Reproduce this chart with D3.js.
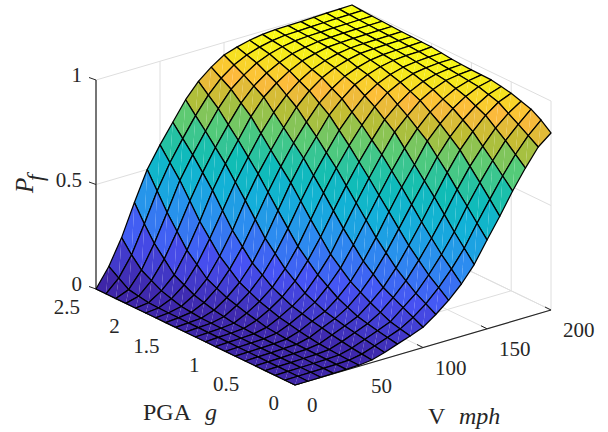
<!DOCTYPE html>
<html>
<head>
<meta charset="utf-8">
<script src="https://cdn.jsdelivr.net/npm/d3@7"></script>
<style>
  html, body { margin: 0; padding: 0; background: #fff; }
  text { font-family: "Liberation Serif", serif; fill: #262626; }
</style>
</head>
<body>
<div id="chart"></div>
<script>
let pgaValues = [0, 0.125, 0.25, 0.375, 0.5, 0.625, 0.75, 0.875, 1, 1.125, 1.25, 1.375, 1.5, 1.625, 1.75, 1.875, 2, 2.125, 2.25, 2.375, 2.5];
let speedValues = [0, 10, 20, 30, 40, 50, 60, 70, 80, 90, 100, 110, 120, 130, 140, 150, 160, 170, 180, 190, 200];
let pgaTicks = [0, 0.5, 1, 1.5, 2, 2.5];
let speedTicks = [0, 50, 100, 150, 200];
let pfTicks = [0, 0.5, 1];

// one row per PGA value, columns follow speedValues
let pfRows = [
  [0, 0, .001, .002, .003, .005, .012, .03, .052, .073, .097, .14, .19, .25, .325, .425, .52, .623, .715, .798, .847],
  [0, .001, .002, .003, .004, .006, .017, .038, .061, .084, .121, .168, .228, .298, .38, .482, .578, .672, .757, .829, .886],
  [0, .001, .002, .003, .005, .008, .023, .046, .07, .095, .145, .195, .265, .345, .435, .54, .635, .722, .8, .86, .915],
  [0, .001, .002, .004, .006, .011, .031, .055, .081, .117, .17, .232, .312, .4, .495, .597, .69, .768, .837, .89, .93],
  [0, .001, .002, .004, .007, .015, .04, .065, .092, .14, .195, .27, .36, .455, .555, .655, .745, .815, .875, .92, .945],
  [0, .002, .003, .005, .008, .022, .05, .076, .113, .167, .235, .32, .417, .515, .61, .707, .785, .848, .897, .934, .955],
  [0, .002, .003, .005, .01, .03, .06, .088, .135, .195, .275, .37, .475, .575, .665, .76, .825, .88, .92, .948, .963],
  [0, .002, .004, .006, .015, .04, .072, .109, .167, .237, .33, .43, .532, .63, .72, .797, .858, .902, .935, .954, .964],
  [0, .002, .004, .007, .02, .05, .085, .13, .2, .28, .385, .49, .59, .685, .775, .835, .89, .925, .95, .96, .965],
  [0, .003, .005, .01, .031, .065, .107, .165, .245, .34, .447, .55, .645, .732, .812, .867, .911, .94, .957, .965, .968],
  [0, .003, .006, .012, .042, .08, .13, .2, .29, .4, .51, .61, .7, .78, .85, .9, .932, .955, .965, .97, .971],
  [0, .004, .007, .02, .056, .102, .165, .25, .352, .465, .57, .662, .75, .82, .88, .92, .946, .963, .971, .975, .977],
  [0, .004, .008, .028, .07, .125, .2, .3, .415, .53, .63, .715, .8, .86, .91, .94, .96, .972, .977, .979, .983],
  [0, .005, .013, .041, .092, .165, .255, .367, .48, .585, .68, .762, .835, .887, .927, .952, .969, .977, .98, .982, .984],
  [0, .005, .018, .055, .115, .205, .31, .435, .545, .64, .73, .81, .87, .915, .945, .965, .978, .982, .984, .985, .986],
  [0, .006, .032, .08, .16, .265, .382, .5, .602, .698, .78, .845, .895, .932, .956, .972, .981, .984, .985, .986, .987],
  [0, .008, .047, .105, .205, .325, .455, .565, .66, .755, .83, .88, .92, .95, .967, .98, .984, .986, .987, .988, .989],
  [0, .016, .073, .158, .272, .4, .518, .62, .712, .797, .86, .905, .937, .961, .974, .983, .986, .988, .989, .99, .991],
  [0, .025, .1, .21, .34, .475, .58, .675, .765, .84, .89, .93, .955, .972, .982, .986, .988, .99, .991, .992, .993],
  [0, .057, .15, .28, .42, .537, .635, .727, .807, .87, .915, .945, .965, .978, .986, .988, .99, .992, .994, .995, .996],
  [0, .09, .21, .36, .5, .6, .69, .78, .85, .9, .94, .96, .975, .985, .99, .991, .992, .995, .997, .998, 1]
];

let colourStops = [0, 0.125, 0.25, 0.375, 0.5, 0.625, 0.74, 0.84, 0.92, 0.98];
let colourNames = ["#3e26a8", "#4752f4", "#2c8cf0", "#12b0d8", "#10bdb5", "#55cb78", "#bcbd32", "#fdba3c", "#f5e21f", "#f9fb15"];

let width = 608;
let height = 432;
let originX = 295;
let originY = 385;

let colour = d3.scaleLinear().domain(colourStops).range(colourNames);

// oblique view: every data axis gets a screen vector
let speedX = d3.scaleLinear().domain([0, 200]).range([0, 256]);
let speedY = d3.scaleLinear().domain([0, 200]).range([0, -75]);
let pgaX = d3.scaleLinear().domain([0, 2.5]).range([0, -199]);
let pgaY = d3.scaleLinear().domain([0, 2.5]).range([0, -96]);
let pfY = d3.scaleLinear().domain([0, 1]).range([0, -209]);

function project(pga, speed, pf) {
  return [
    originX + speedX(speed) + pgaX(pga),
    originY + speedY(speed) + pgaY(pga) + pfY(pf)
  ];
}

let svg = d3.select("#chart").append("svg")
  .attr("width", width)
  .attr("height", height)
  .style("display", "block");

function segment(parent, a, b, stroke, strokeWidth) {
  parent.append("line")
    .attr("x1", a[0]).attr("y1", a[1])
    .attr("x2", b[0]).attr("y2", b[1])
    .attr("stroke", stroke)
    .attr("stroke-width", strokeWidth);
}

// walls and floor grid
let gridColour = "#dedede";
let grid = svg.append("g");
pfTicks.forEach(function (t) {
  segment(grid, project(2.5, 0, t), project(2.5, 200, t), gridColour, 1);
  segment(grid, project(0, 200, t), project(2.5, 200, t), gridColour, 1);
});
speedTicks.forEach(function (t) {
  segment(grid, project(2.5, t, 0), project(2.5, t, 1), gridColour, 1);
  segment(grid, project(0, t, 0), project(2.5, t, 0), gridColour, 1);
});
pgaTicks.forEach(function (t) {
  segment(grid, project(t, 200, 0), project(t, 200, 1), gridColour, 1);
  segment(grid, project(t, 0, 0), project(t, 200, 0), gridColour, 1);
});

// axis lines and ticks
let axisColour = "#262626";
let axes = svg.append("g");
segment(axes, project(2.5, 0, 0), project(2.5, 0, 1), axisColour, 1.2);
segment(axes, project(2.5, 0, 0), project(0, 0, 0), axisColour, 1.2);
segment(axes, project(0, 0, 0), project(0, 200, 0), axisColour, 1.2);

let tickLabels = svg.append("g").style("font-size", "21px");

pfTicks.forEach(function (t) {
  let p = project(2.5, 0, t);
  segment(axes, p, [p[0] - 7, p[1] - 2.5], axisColour, 1);
  tickLabels.append("text")
    .attr("x", p[0] - 14).attr("y", p[1] - 5)
    .attr("dy", "0.34em")
    .attr("text-anchor", "end")
    .text(d3.format("")(t));
});
pgaTicks.forEach(function (t) {
  let p = project(t, 0, 0);
  segment(axes, p, [p[0] + 7, p[1] - 2], axisColour, 1);
  tickLabels.append("text")
    .attr("x", p[0] - 16).attr("y", p[1] + 18)
    .attr("dy", "0.34em")
    .attr("text-anchor", "end")
    .text(d3.format("")(t));
});
speedTicks.forEach(function (t) {
  let p = project(0, t, 0);
  segment(axes, p, [p[0] - 6, p[1] - 3], axisColour, 1);
  tickLabels.append("text")
    .attr("x", p[0] + 12).attr("y", p[1] + 20)
    .attr("dy", "0.34em")
    .text(d3.format("")(t));
});

// surface, back to front; each face is two triangles so the seam shows like the original
let surface = svg.append("g");
let pathOf = d3.line();
for (let i = pgaValues.length - 2; i >= 0; i--) {
  for (let j = speedValues.length - 2; j >= 0; j--) {
    let a = project(pgaValues[i], speedValues[j], pfRows[i][j]);
    let b = project(pgaValues[i], speedValues[j + 1], pfRows[i][j + 1]);
    let c = project(pgaValues[i + 1], speedValues[j + 1], pfRows[i + 1][j + 1]);
    let d = project(pgaValues[i + 1], speedValues[j], pfRows[i + 1][j]);
    let fill = colour(pfRows[i][j]);
    surface.append("path").attr("d", pathOf([a, b, c]) + "Z").attr("fill", fill);
    surface.append("path").attr("d", pathOf([a, c, d]) + "Z").attr("fill", fill);
    surface.append("path").attr("d", pathOf([a, b, c, d]) + "Z")
      .attr("fill", "none")
      .attr("stroke", "#000")
      .attr("stroke-width", 1.25)
      .attr("stroke-linejoin", "round");
  }
}

// axis titles
function label(x, y, str, italic, size) {
  return svg.append("text")
    .attr("x", x).attr("y", y)
    .style("font-size", size + "px")
    .style("font-style", italic ? "italic" : "normal")
    .text(str);
}
label(143, 420, "PGA", false, 24);
label(205, 420, "g", true, 24);
label(428, 424, "V", false, 24);
label(459, 424, "mph", true, 24);
label(33, 193, "P", true, 25).attr("transform", "rotate(-90 33 193)");
label(43, 181, "f", true, 23).attr("transform", "rotate(-90 43 181)");
</script>
</body>
</html>
